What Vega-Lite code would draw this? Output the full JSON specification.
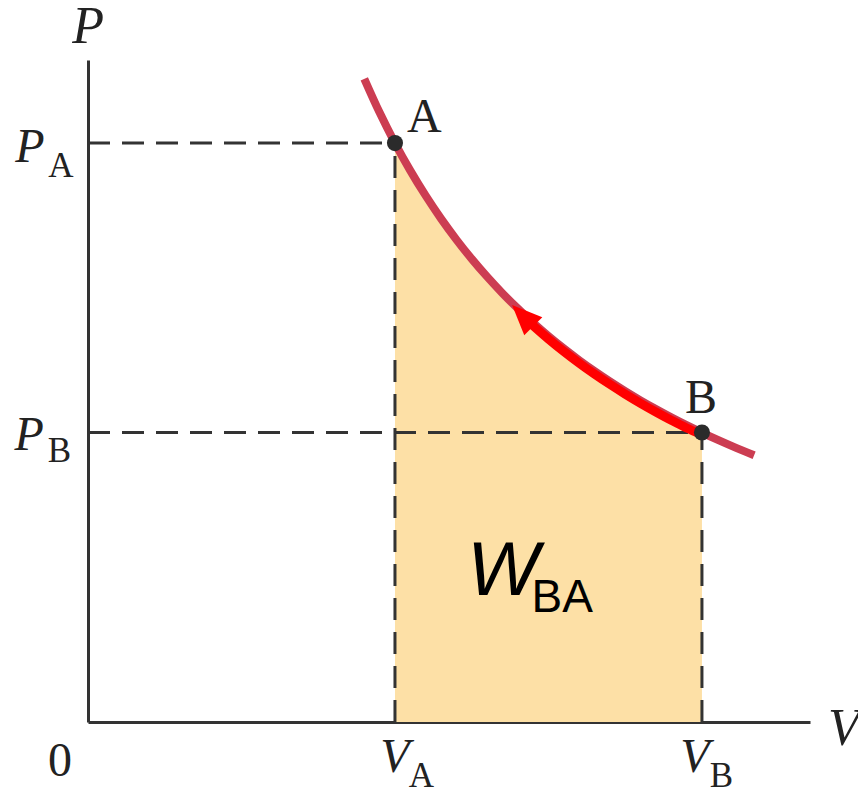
{
  "$schema": "https://vega.github.io/schema/vega-lite/v6.json",
  "width": 722,
  "height": 662,
  "autosize": "none",
  "padding": {"left": 88, "top": 60, "right": 48, "bottom": 69},
  "background": "white",
  "config": {"view": {"stroke": null}},
  "datasets": {
    "curve": [
      {"v": 0.90, "p": 2.2222}, {"v": 0.95, "p": 2.1053}, {"v": 1.00, "p": 2.0},
      {"v": 1.05, "p": 1.9048}, {"v": 1.10, "p": 1.8182}, {"v": 1.15, "p": 1.7391},
      {"v": 1.20, "p": 1.6667}, {"v": 1.25, "p": 1.6}, {"v": 1.30, "p": 1.5385},
      {"v": 1.35, "p": 1.4815}, {"v": 1.40, "p": 1.4286}, {"v": 1.45, "p": 1.3793},
      {"v": 1.50, "p": 1.3333}, {"v": 1.55, "p": 1.2903}, {"v": 1.60, "p": 1.25},
      {"v": 1.65, "p": 1.2121}, {"v": 1.70, "p": 1.1765}, {"v": 1.75, "p": 1.1429},
      {"v": 1.80, "p": 1.1111}, {"v": 1.85, "p": 1.0811}, {"v": 1.90, "p": 1.0526},
      {"v": 1.95, "p": 1.0256}, {"v": 2.00, "p": 1.0}, {"v": 2.05, "p": 0.9756},
      {"v": 2.10, "p": 0.9524}, {"v": 2.17, "p": 0.9217}
    ],
    "work": [
      {"v": 1.00, "p": 2.0}, {"v": 1.05, "p": 1.9048}, {"v": 1.10, "p": 1.8182},
      {"v": 1.15, "p": 1.7391}, {"v": 1.20, "p": 1.6667}, {"v": 1.25, "p": 1.6},
      {"v": 1.30, "p": 1.5385}, {"v": 1.35, "p": 1.4815}, {"v": 1.40, "p": 1.4286},
      {"v": 1.45, "p": 1.3793}, {"v": 1.50, "p": 1.3333}, {"v": 1.55, "p": 1.2903},
      {"v": 1.60, "p": 1.25}, {"v": 1.65, "p": 1.2121}, {"v": 1.70, "p": 1.1765},
      {"v": 1.75, "p": 1.1429}, {"v": 1.80, "p": 1.1111}, {"v": 1.85, "p": 1.0811},
      {"v": 1.90, "p": 1.0526}, {"v": 1.95, "p": 1.0256}, {"v": 2.00, "p": 1.0}
    ],
    "arrow": [
      {"v": 2.00, "p": 0.992}, {"v": 1.95, "p": 1.0156}, {"v": 1.90, "p": 1.0426},
      {"v": 1.85, "p": 1.0711}, {"v": 1.80, "p": 1.1011}, {"v": 1.75, "p": 1.1329},
      {"v": 1.70, "p": 1.1665}, {"v": 1.65, "p": 1.2021}, {"v": 1.60, "p": 1.240},
      {"v": 1.55, "p": 1.2803}, {"v": 1.50, "p": 1.3233}, {"v": 1.45, "p": 1.3693},
      {"v": 1.42, "p": 1.3985}
    ],
    "head": [{"v": 1.416, "p": 1.404}],
    "guides": [
      {"v": 0, "v2": 1, "p": 2, "p2": 2},
      {"v": 0, "v2": 2, "p": 1, "p2": 1},
      {"v": 1, "v2": 1, "p": 0, "p2": 2},
      {"v": 2, "v2": 2, "p": 0, "p2": 1}
    ],
    "states": [{"v": 1, "p": 2, "name": "A"}, {"v": 2, "p": 1, "name": "B"}],
    "bigItalic": [
      {"v": 0.0, "p": 2.345, "t": "P"},
      {"v": 2.4625, "p": -0.0794, "t": "V"}
    ],
    "italic": [
      {"v": -0.189, "p": 1.934, "t": "P"},
      {"v": -0.192, "p": 0.9396, "t": "P"},
      {"v": 1.0, "p": -0.1727, "t": "V"},
      {"v": 1.977, "p": -0.1727, "t": "V"}
    ],
    "subs": [
      {"v": -0.088, "p": 1.883, "t": "A"},
      {"v": -0.0928, "p": 0.898, "t": "B"},
      {"v": 1.0863, "p": -0.2245, "t": "A"},
      {"v": 2.0635, "p": -0.2245, "t": "B"}
    ],
    "plain": [
      {"v": 1.096, "p": 2.038, "t": "A"},
      {"v": 1.997, "p": 1.067, "t": "B"},
      {"v": -0.0912, "p": -0.1865, "t": "0"}
    ],
    "wmain": [{"v": 1.352, "p": 0.4387, "t": "W"}],
    "wsub": [{"v": 1.545, "p": 0.380, "t": "BA"}]
  },
  "encoding": {
    "x": {
      "field": "v", "type": "quantitative",
      "scale": {"domain": [0, 2.352], "nice": false, "zero": false},
      "axis": {"domain": true, "domainColor": "#333333", "domainWidth": 3, "ticks": false, "labels": false, "grid": false, "title": null}
    },
    "y": {
      "field": "p", "type": "quantitative",
      "scale": {"domain": [0, 2.287], "nice": false, "zero": false},
      "axis": {"domain": true, "domainColor": "#333333", "domainWidth": 3, "ticks": false, "labels": false, "grid": false, "title": null}
    }
  },
  "layer": [
    {
      "data": {"name": "work"},
      "mark": {"type": "area", "color": "#fde0a6", "interpolate": "monotone"},
      "encoding": {}
    },
    {
      "data": {"name": "guides"},
      "mark": {"type": "rule", "color": "#333333", "strokeWidth": 3, "strokeDash": [22, 12]},
      "encoding": {
        "x2": {"field": "v2"},
        "y2": {"field": "p2"}
      }
    },
    {
      "data": {"name": "curve"},
      "mark": {"type": "line", "color": "#cc3d52", "strokeWidth": 8, "interpolate": "monotone", "strokeCap": "butt"},
      "encoding": {}
    },
    {
      "data": {"name": "arrow"},
      "mark": {"type": "line", "color": "#ff0000", "strokeWidth": 9, "interpolate": "monotone", "strokeCap": "butt"},
      "encoding": {}
    },
    {
      "data": {"name": "head"},
      "mark": {"type": "point", "shape": "M0,-1L0.85,1L-0.85,1Z", "size": 900, "angle": 315, "filled": true, "color": "#ff0000", "opacity": 1},
      "encoding": {}
    },
    {
      "data": {"name": "states"},
      "mark": {"type": "circle", "size": 260, "color": "#2b2b2b", "opacity": 1},
      "encoding": {}
    },
    {
      "data": {"name": "bigItalic"},
      "mark": {"type": "text", "font": "Liberation Serif", "fontStyle": "italic", "fontSize": 52, "align": "center", "baseline": "alphabetic", "color": "#222222"},
      "encoding": {"text": {"field": "t"}}
    },
    {
      "data": {"name": "italic"},
      "mark": {"type": "text", "font": "Liberation Serif", "fontStyle": "italic", "fontSize": 48, "align": "center", "baseline": "alphabetic", "color": "#222222"},
      "encoding": {"text": {"field": "t"}}
    },
    {
      "data": {"name": "subs"},
      "mark": {"type": "text", "font": "Liberation Serif", "fontSize": 35, "align": "center", "baseline": "alphabetic", "color": "#222222"},
      "encoding": {"text": {"field": "t"}}
    },
    {
      "data": {"name": "plain"},
      "mark": {"type": "text", "font": "Liberation Serif", "fontSize": 48, "align": "center", "baseline": "alphabetic", "color": "#222222"},
      "encoding": {"text": {"field": "t"}}
    },
    {
      "data": {"name": "wmain"},
      "mark": {"type": "text", "font": "Liberation Sans", "fontStyle": "italic", "fontSize": 76, "align": "center", "baseline": "alphabetic", "color": "#000000"},
      "encoding": {"text": {"field": "t"}}
    },
    {
      "data": {"name": "wsub"},
      "mark": {"type": "text", "font": "Liberation Sans", "fontSize": 46, "align": "center", "baseline": "alphabetic", "color": "#000000"},
      "encoding": {"text": {"field": "t"}}
    }
  ]
}
